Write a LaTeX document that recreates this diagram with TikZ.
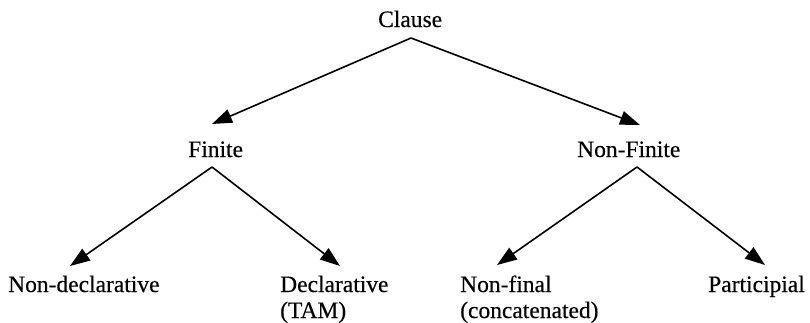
\documentclass[tikz,border=0pt]{standalone}
\usepackage{fontspec}
\setmainfont{Liberation Serif}
\newfontfamily\termfont{Liberation Serif}[FakeBold=0.35]
\usetikzlibrary{arrows.meta}
\begin{document}
\begin{tikzpicture}[x=1pt,y=-1pt,
  term/.style={font=\termfont\fontsize{23.5}{26}\selectfont, inner sep=0pt, anchor=base west, align=left},
  branch/.style={line width=1.6pt, -{Triangle[length=20pt,width=14pt]}}]
\useasboundingbox (0,0) rectangle (810,322);

% category labels (two-line labels are placed by the baseline of their last line)
\node[term] (clause)   at (378,27)  {Clause};
\node[term] (finite)   at (188,157) {Finite};
\node[term] (nonfin)   at (577,157) {Non-Finite};
\node[term] (nondecl)  at (8,292)   {Non-declarative};
\node[term] (decl)     at (280,318) {Declarative\\(TAM)};
\node[term] (nonfinal) at (460,318) {Non-final\\(concatenated)};
\node[term] (partic)   at (708,292) {Participial};

% branching points below each parent and arrow targets above each child
\coordinate (clause-out)   at (411,38);
\coordinate (finite-in)    at (212,124);
\coordinate (nonfin-in)    at (640,125);
\coordinate (finite-out)   at (212,167);
\coordinate (nonfin-out)   at (637,167);
\coordinate (nondecl-in)   at (70,266);
\coordinate (decl-in)      at (340,266);
\coordinate (nonfinal-in)  at (497,265);
\coordinate (partic-in)    at (765,265);

\draw[branch] (clause-out) -- (finite-in);
\draw[branch] (clause-out) -- (nonfin-in);
\draw[branch] (finite-out) -- (nondecl-in);
\draw[branch] (finite-out) -- (decl-in);
\draw[branch] (nonfin-out) -- (nonfinal-in);
\draw[branch] (nonfin-out) -- (partic-in);
\end{tikzpicture}
\end{document}
